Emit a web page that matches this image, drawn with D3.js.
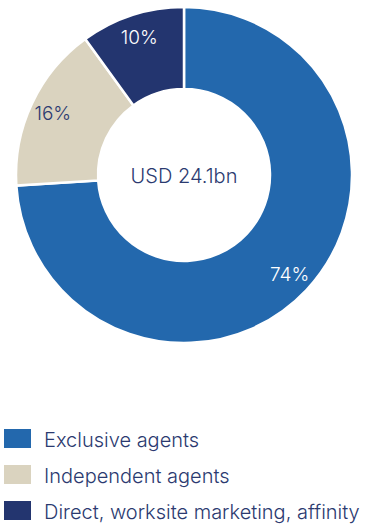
<!DOCTYPE html>
<html>
<head>
<meta charset="utf-8">
<script src="https://cdn.jsdelivr.net/npm/d3@7"></script>
<style>
  html, body { margin: 0; padding: 0; background: #fff; }
  svg { display: block; font-family: Inter, "Liberation Sans", Arial, sans-serif; }
</style>
</head>
<body>
<svg id="chart" width="365" height="527"></svg>
<script>
// Distribution channels, share of premiums (%)
const categories = ["Exclusive agents", "Independent agents", "Direct, worksite marketing, affinity"];
const shares = [74, 16, 10];
const colors = ["#2368AD", "#DAD3BF", "#23356F"];
const labelColors = ["#ffffff", "#2B3A70", "#ffffff"];
const totalLabel = "USD 24.1bn";

const svg = d3.select("#chart");
const textColor = "#2B3A70";

const cx = 184, cy = 175;
const outerR = 168, innerR = 86;

const pie = d3.pie().sort(null).value(d => d)(shares);
const arc = d3.arc().innerRadius(innerR).outerRadius(outerR);
const labelArc = d3.arc().innerRadius(145).outerRadius(145);

const g = svg.append("g").attr("transform", `translate(${cx},${cy})`);

g.selectAll("path.slice")
  .data(pie)
  .join("path")
  .attr("class", "slice")
  .attr("d", arc)
  .attr("fill", (d, i) => colors[i])
  .attr("stroke", "#fff")
  .attr("stroke-width", 2.5)
  .attr("stroke-linejoin", "miter");

g.selectAll("text.pct")
  .data(pie)
  .join("text")
  .attr("class", "pct")
  .attr("transform", d => {
    const [x, y] = labelArc.centroid(d);
    return `translate(${x},${y})`;
  })
  .attr("text-anchor", "middle")
  .attr("dominant-baseline", "central")
  .attr("font-size", 19)
  .attr("font-weight", 300)
  .attr("fill", (d, i) => labelColors[i])
  .text(d => d.data + "%");

g.append("text")
  .attr("text-anchor", "middle")
  .attr("dominant-baseline", "central")
  .attr("y", 1)
  .attr("font-size", 20)
  .attr("font-weight", 300)
  .attr("fill", textColor)
  .text(totalLabel);

// Legend
const legend = svg.append("g").attr("transform", "translate(4,429)");
const rowH = 36;
const items = legend.selectAll("g.item")
  .data(categories)
  .join("g")
  .attr("class", "item")
  .attr("transform", (d, i) => `translate(0,${i * rowH})`);

items.append("rect")
  .attr("width", 27)
  .attr("height", 19)
  .attr("fill", (d, i) => colors[i]);

items.append("text")
  .attr("x", 40)
  .attr("y", 18)
  .attr("font-size", 20)
  .attr("font-weight", 300)
  .attr("fill", textColor)
  .text(d => d);
</script>
</body>
</html>
